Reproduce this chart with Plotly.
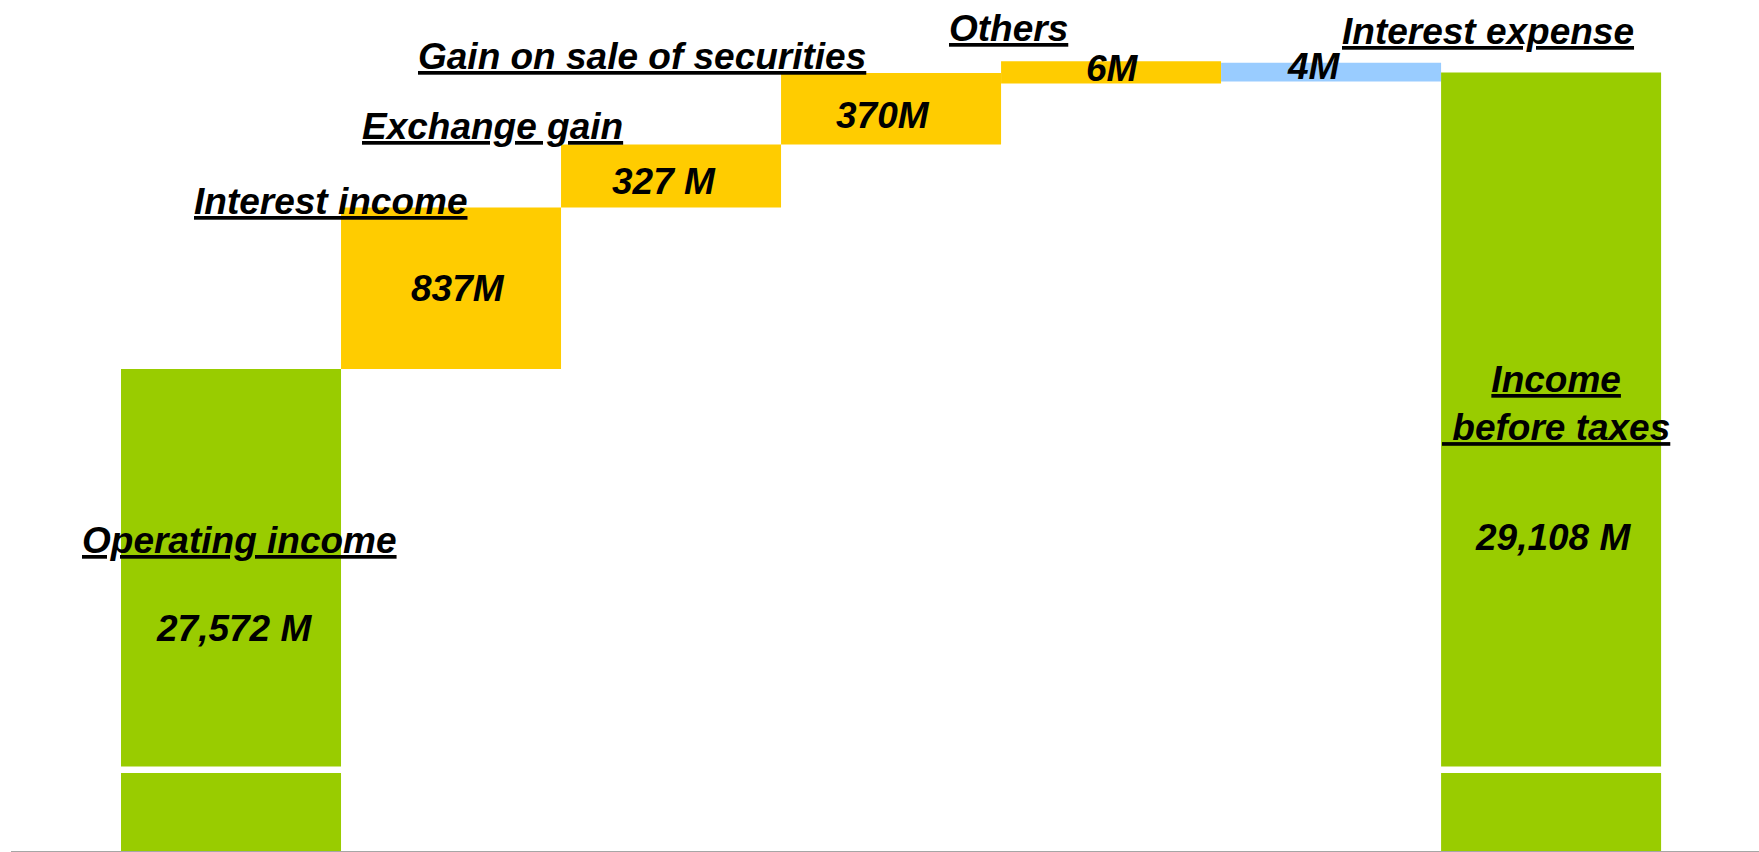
import plotly.graph_objects as go

# ---------------- data ----------------
categories = ["Operating income", "Interest income", "Exchange gain",
              "Gain on sale of securities", "Others", "Interest expense",
              "Income before taxes"]
measures = ["absolute", "relative", "relative", "relative", "relative",
            "relative", "total"]
values = [27572, 837, 327, 370, 6, -4, 29108]
value_labels = ["27,572 M", "837M", "327 M", "370M", "6M", "4M", "29,108 M"]
name_labels = ["Operating income", "Interest income", "Exchange gain",
               "Gain on sale of securities", "Others", "Interest expense",
               "Income<br>\u00a0before taxes"]

# ---------------- styles / layout ----------------
W, H = 1759, 852
COLORS = {"total": "#99CC00", "inc": "#FFCC00", "dec": "#99CCFF"}
FONT = "Liberation Sans, Arial, sans-serif"
FONT_SIZE = 37
X_LEFT_PX = 11
X_RANGE = [-1.0, 6.945]
PX_PER_CAT = (W - X_LEFT_PX) / (X_RANGE[1] - X_RANGE[0])
# minimum visual thickness for very small steps (stroke in same colour)
thin_stroke = [0, 0, 0, 0, 21, 18, 0]

# upper (broken) axis and lower stub axis
UPPER_RANGE = [25512.6, 29484.1]
UPPER_DOMAIN = [1 - 766.5 / H, 1.0]
LOWER_RANGE = [0, 1000]
LOWER_DOMAIN = [1 - 851 / H, 1 - 773 / H]

# label placement: (x shift px from bar centre, y centre px)
name_pos = [(8, 540), (-121, 202), (-179, 126), (-249, 56), (-103, 29),
            (157, 31), (5, 403)]
value_pos = [(3, 628), (7, 288), (-7, 181), (-8, 115), (1, 68), (-17, 67),
             (2, 537)]

# ---------------- waterfall geometry from data ----------------
bases, heights, kinds = [], [], []
running = 0
for m, v in zip(measures, values):
    if m == "absolute":
        bases.append(0); heights.append(v); running = v; kinds.append("total")
    elif m == "total":
        bases.append(0); heights.append(running); kinds.append("total")
    else:
        bases.append(running); heights.append(v); running += v
        kinds.append("inc" if v > 0 else "dec")

colors = [COLORS[k] for k in kinds]
widths = [1.0 - s / PX_PER_CAT for s in thin_stroke]

fig = go.Figure()
for yax in ["y2", "y"]:
    fig.add_trace(go.Bar(
        x=categories, y=heights, base=bases, width=widths,
        marker=dict(color=colors,
                    line=dict(color=colors, width=thin_stroke)),
        yaxis=yax, xaxis="x", showlegend=False, hoverinfo="skip",
    ))

name_font = dict(family=FONT, size=FONT_SIZE, color="black", weight="bold",
                 style="italic", lineposition="under")
value_font = dict(family=FONT, size=FONT_SIZE, color="black", weight="bold",
                  style="italic")

for cat, txt, (dx, py) in zip(categories, name_labels, name_pos):
    fig.add_annotation(x=cat, xref="x", y=1 - py / H, yref="paper",
                       text=txt, showarrow=False, font=name_font,
                       xanchor="center", yanchor="middle", xshift=dx,
                       align="center")
for cat, txt, (dx, py) in zip(categories, value_labels, value_pos):
    fig.add_annotation(x=cat, xref="x", y=1 - py / H, yref="paper",
                       text=txt, showarrow=False, font=value_font,
                       xanchor="center", yanchor="middle", xshift=dx)

fig.update_layout(
    width=W, height=H,
    margin=dict(l=0, r=0, t=0, b=0, pad=0),
    paper_bgcolor="white", plot_bgcolor="white",
    showlegend=False, barmode="overlay",
    xaxis=dict(domain=[X_LEFT_PX / W, 1.0], range=X_RANGE,
               showticklabels=False, showgrid=False, zeroline=False,
               showline=True, linecolor="#A6A6A6", linewidth=1,
               ticks="", anchor="y", fixedrange=True),
    yaxis=dict(domain=LOWER_DOMAIN, range=LOWER_RANGE, visible=False,
               showgrid=False, zeroline=False, fixedrange=True),
    yaxis2=dict(domain=UPPER_DOMAIN, range=UPPER_RANGE, visible=False,
                showgrid=False, zeroline=False, anchor="x",
                fixedrange=True),
)

fig.write_html("out.html", config={"displayModeBar": False})
